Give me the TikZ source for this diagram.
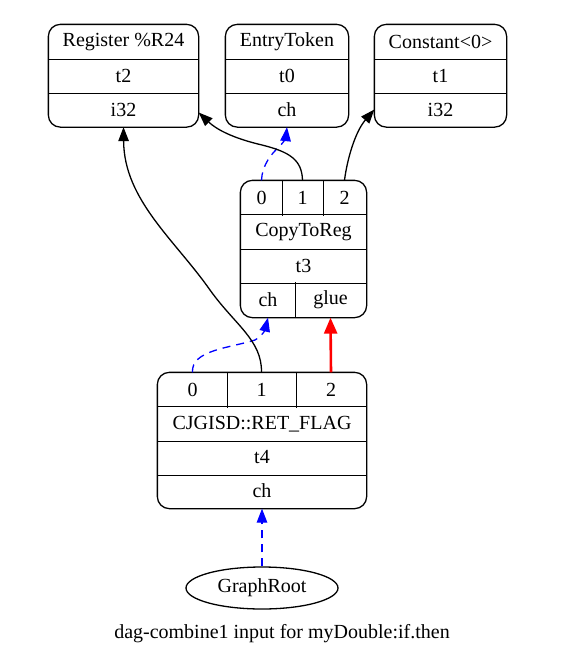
\documentclass[tikz,border=0pt]{standalone}
\usepackage{fontspec}
\setmainfont{Liberation Serif}
\usetikzlibrary{shapes.geometric, arrows.meta}

\begin{document}
\begin{tikzpicture}[x=1pt, y=-1pt, line width=1.3pt, font=\fontsize{20}{24}\selectfont,
  >={Triangle[length=14pt, width=10.5pt]}]
% Define styles
\tikzstyle{field} = [rectangle, inner sep=0, minimum height=34]
\tikzstyle{record} = [rounded corners=12]
\tikzstyle{arrow} = [->]
\tikzstyle{chain} = [->, blue, dash pattern=on 8 off 6]
\tikzstyle{glue} = [-{Triangle[length=16pt, width=13pt]}, red, line width=2.6]
\useasboundingbox (0,0) rectangle (580,670);
% Register %R24
\node (reg0) [field, minimum width=149] at (123.5,42) {Register \%R24};
\node (reg1) [field, minimum width=149] at (123.5,76) {t2};
\node (reg2) [field, minimum width=149] at (123.5,109.5) {i32};
\draw [record] (reg0.north west) rectangle (reg2.south east);
\draw (reg0.south west) -- (reg0.south east);
\draw (reg1.south west) -- (reg1.south east);
% EntryToken
\node (ent0) [field, minimum width=122] at (287,42) {EntryToken};
\node (ent1) [field, minimum width=122] at (287,76) {t0};
\node (ent2) [field, minimum width=122] at (287,109.5) {ch};
\draw [record] (ent0.north west) rectangle (ent2.south east);
\draw (ent0.south west) -- (ent0.south east);
\draw (ent1.south west) -- (ent1.south east);
% Constant<0>
\node (con0) [field, minimum width=131] at (440.5,42) {Constant<0>};
\node (con1) [field, minimum width=131] at (440.5,76) {t1};
\node (con2) [field, minimum width=131] at (440.5,109.5) {i32};
\draw [record] (con0.north west) rectangle (con2.south east);
\draw (con0.south west) -- (con0.south east);
\draw (con1.south west) -- (con1.south east);
% CopyToReg
\node (ctr0) [field, minimum width=41] at (261.5,198) {0};
\node (ctr1) [field, minimum width=41] at (302.5,198) {1};
\node (ctr2) [field, minimum width=43] at (344.5,198) {2};
\node (ctr3) [field, minimum width=125] at (303.5,232) {CopyToReg};
\node (ctr4) [field, minimum width=125] at (303.5,266) {t3};
\node (ctr5) [field, minimum width=54] at (268,300) {ch};
\node (ctr6) [field, minimum width=71] at (330.5,300) {glue};
\draw [record] (ctr0.north west) rectangle (ctr6.south east);
\draw (ctr3.north west) -- (ctr3.north east);
\draw (ctr3.south west) -- (ctr3.south east);
\draw (ctr4.south west) -- (ctr4.south east);
\draw (ctr0.north east) -- (ctr0.south east);
\draw (ctr1.north east) -- (ctr1.south east);
\draw (ctr5.north east) -- (ctr5.south east);
% CJGISD::RET_FLAG
\node (ret0) [field, minimum width=69] at (192.5,390) {0};
\node (ret1) [field, minimum width=69] at (261.5,390) {1};
\node (ret2) [field, minimum width=70] at (331,390) {2};
\node (ret3) [field, minimum width=208] at (262,424) {CJGISD::RET\_FLAG};
\node (ret4) [field, minimum width=208] at (262,457.5) {t4};
\node (ret5) [field, minimum width=208] at (262,491) {ch};
\draw [record] (ret0.north west) rectangle (ret5.south east);
\draw (ret3.north west) -- (ret3.north east);
\draw (ret3.south west) -- (ret3.south east);
\draw (ret4.south west) -- (ret4.south east);
\draw (ret0.north east) -- (ret0.south east);
\draw (ret1.north east) -- (ret1.south east);
% GraphRoot and caption
\node (root) [ellipse, draw, minimum width=152, minimum height=42] at (262,588) {GraphRoot};
\node (title) at (282,634) {dag-combine1 input for myDouble:if.then};
% Draw arrows
\draw [chain] (ctr0.north) .. controls (262,165) and (272,153) .. (279,147) .. controls (284,142) and (286,137) .. (ent2.south);
\draw [arrow] (ctr1.north) .. controls (302,160) and (290,152) .. (262,145) .. controls (232,138) and (216,129) .. ([yshift=-3]reg2.east);
\draw [arrow] (ctr2.north) .. controls (347,160) and (355,132) .. (con2.west);
\draw [chain] (ret0.north) .. controls (191,350) and (230,348) .. (255,340) .. controls (262,336) and (265,330) .. (ctr5.south);
\draw [arrow] (ret1.north) .. controls (262,340) and (235,325) .. (210,290) .. controls (175,240) and (124,200) .. (reg2.south);
\draw [glue] (ret2.north) -- (ctr6.south);
\draw [chain] (root) -- (ret5.south);
\end{tikzpicture}
\end{document}
